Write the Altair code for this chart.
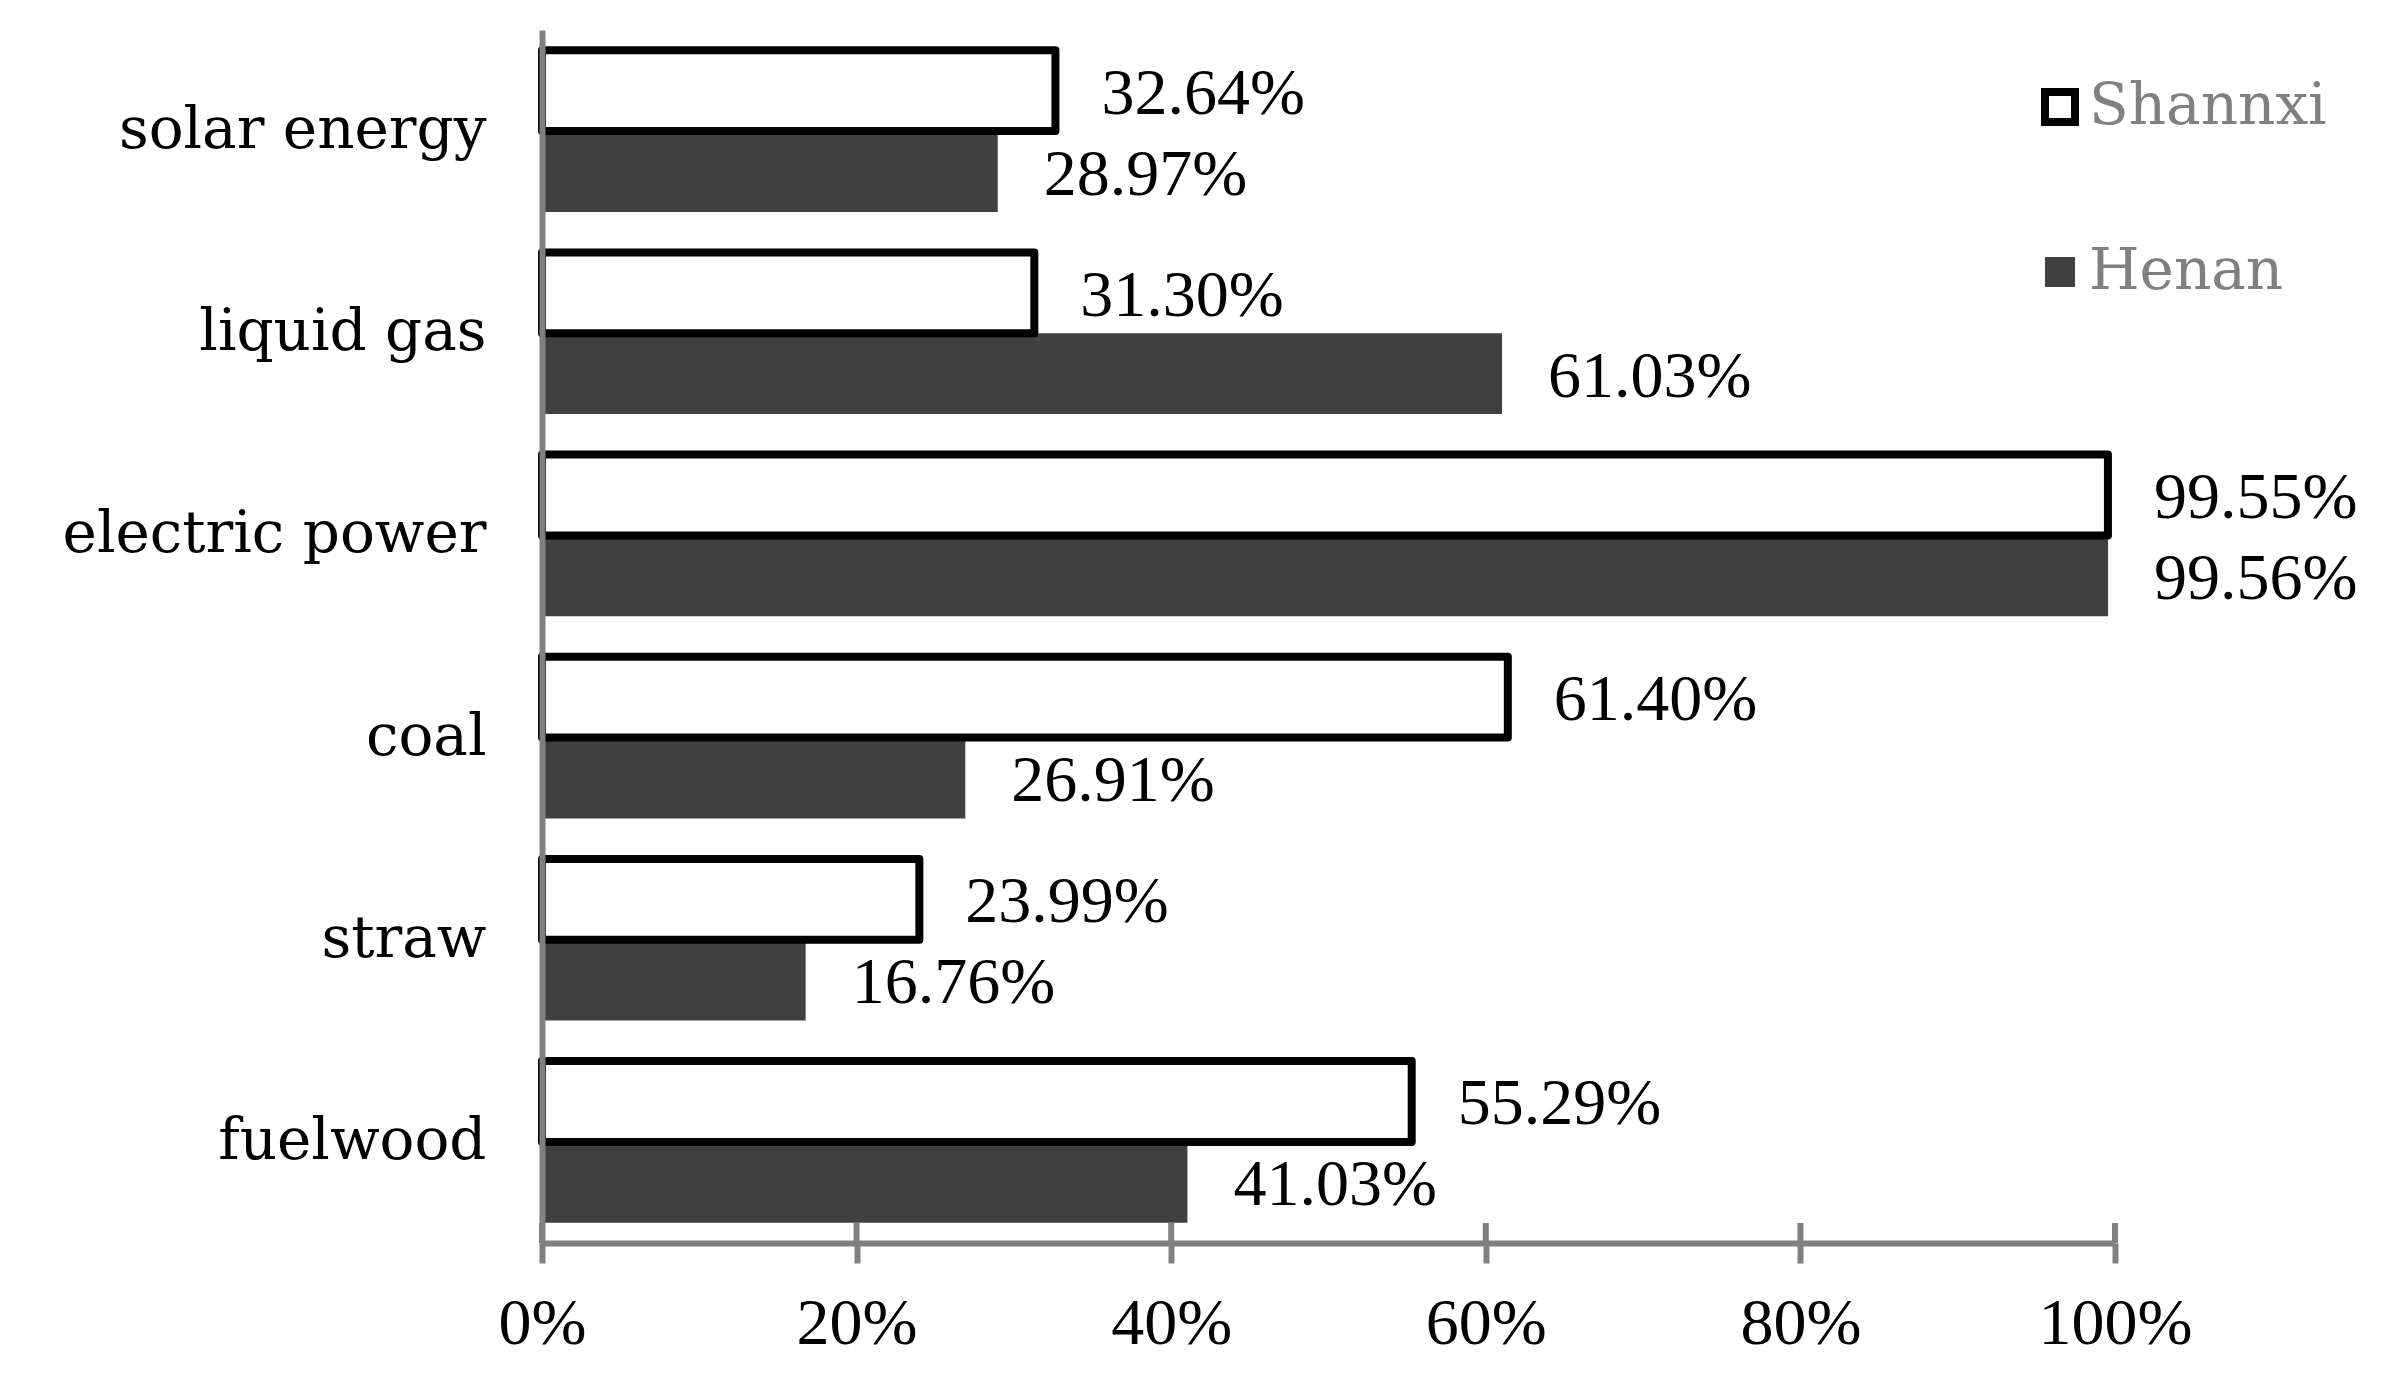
import altair as alt
import pandas as pd

categories = ["solar energy", "liquid gas", "electric power", "coal", "straw", "fuelwood"]
regions = ["Shannxi", "Henan"]
shannxi = [32.64, 31.30, 99.55, 61.40, 23.99, 55.29]
henan = [28.97, 61.03, 99.56, 26.91, 16.76, 41.03]
x_ticks = [0, 20, 40, 60, 80, 100]

rows = []
for c, h in zip(categories, henan):
    rows.append({"category": c, "region": "Henan", "value": h / 100, "label": f"{h:.2f}%"})
for c, s in zip(categories, shannxi):
    rows.append({"category": c, "region": "Shannxi", "value": s / 100, "label": f"{s:.2f}%"})
df = pd.DataFrame(rows)
ticks_df = pd.DataFrame({"t": [v / 100 for v in x_ticks]})

W, H = 1573, 1213
GRAY = "#808080"

x_enc = alt.X(
    "value:Q",
    scale=alt.Scale(domain=[0, 1], nice=False),
    axis=alt.Axis(
        values=[v / 100 for v in x_ticks], format=".0%", title=None, grid=False,
        domainColor=GRAY, domainWidth=6, tickColor=GRAY, tickWidth=6, tickSize=20,
        labelFont="Liberation Serif", labelFontSize=66, labelColor="black",
        labelPadding=28, labelFlush=False, zindex=1,
    ),
)
y_enc = alt.Y(
    "category:N", sort=categories,
    scale=alt.Scale(domain=categories, paddingInner=0.2, paddingOuter=0.1),
    axis=alt.Axis(
        title=None, ticks=False, domainColor=GRAY, domainWidth=6,
        labelFont="DejaVu Serif", labelFontSize=58, labelColor="black",
        labelPadding=56, labelLimit=0, zindex=1,
    ),
)
yoff = alt.YOffset("region:N", scale=alt.Scale(domain=regions, paddingInner=0, paddingOuter=0))

leg = alt.Legend(
    title=None, orient="none", legendX=1489, legendY=48, symbolType="square",
    symbolSize=900, labelFont="DejaVu Serif", labelFontSize=58, labelColor=GRAY,
    rowPadding=105, labelOffset=0, padding=0, labelLimit=0,
)

bars = alt.Chart(df).mark_bar(strokeJoin="round").encode(
    x=x_enc,
    y=y_enc,
    yOffset=yoff,
    fill=alt.Fill("region:N", scale=alt.Scale(domain=regions, range=["#ffffff", "#404040"]), legend=leg),
    stroke=alt.Stroke("region:N", scale=alt.Scale(domain=regions, range=["#000000", "#404040"]), legend=leg),
    strokeWidth=alt.StrokeWidth("region:N", scale=alt.Scale(domain=regions, range=[8, 0]), legend=leg),
)

labels = alt.Chart(df).mark_text(
    align="left", baseline="middle", dx=46, dy=3,
    font="Liberation Serif", fontSize=66, color="black",
).encode(
    x=alt.X("value:Q"),
    y=alt.Y("category:N", sort=categories),
    yOffset=alt.YOffset("region:N"),
    text="label:N",
)

tick_rules = alt.Chart(ticks_df).mark_rule(color=GRAY, strokeWidth=6).encode(
    x=alt.X("t:Q"), y=alt.value(H - 20), y2=alt.value(H),
)

chart = alt.layer(bars, labels, tick_rules).properties(
    width=W, height=H, autosize="none",
    padding={"left": 534, "top": 22, "right": 270, "bottom": 120},
).configure_view(strokeWidth=0)

chart.save("out.html", embed_options={"renderer": "svg", "actions": False})
